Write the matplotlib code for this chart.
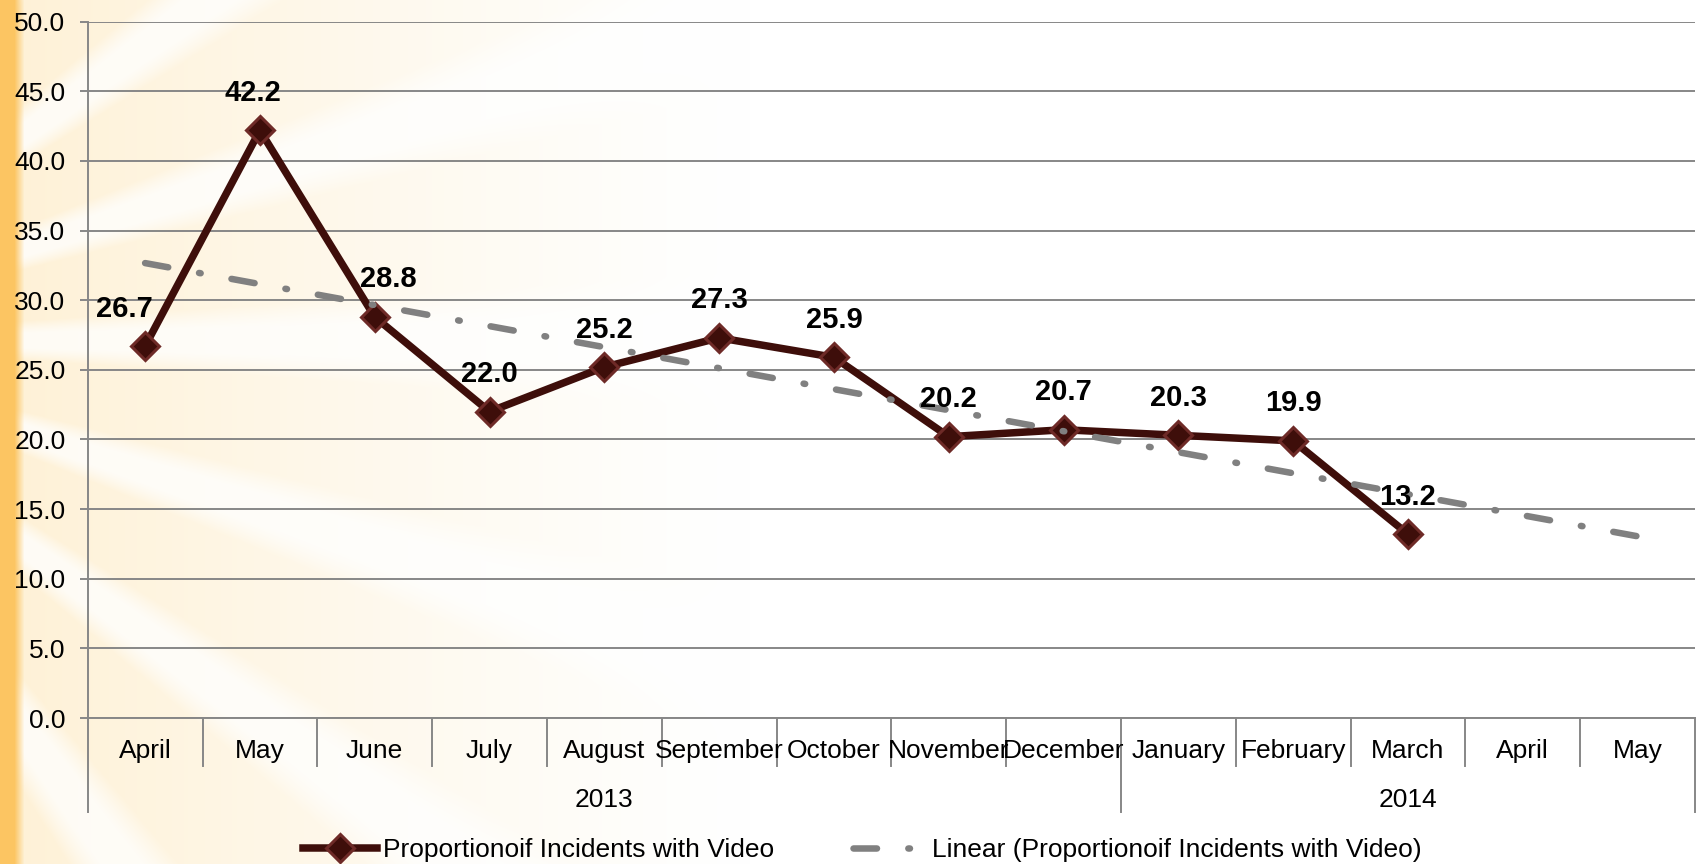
import numpy as np
import matplotlib
matplotlib.use('Agg')
import matplotlib.pyplot as plt
from matplotlib.lines import Line2D

months = ['April', 'May', 'June', 'July', 'August', 'September', 'October',
          'November', 'December', 'January', 'February', 'March', 'April', 'May']
years = ['2013', '2014']
year_first = [0, 9]          # index of first month in each year
proportion = [26.7, 42.2, 28.8, 22.0, 25.2, 27.3, 25.9, 20.2, 20.7, 20.3, 19.9, 13.2]
y_ticks = np.arange(0, 50.1, 5)
series_name = 'Proportionoif Incidents with Video'

# a few labels were dragged sideways by hand in the original (points)
label_dx = [-15, -5, 10, 0, 0, 0, 0, 0, 0, 0, 0, 0]

plt.rcParams['font.family'] = ['Liberation Sans', 'DejaVu Sans']
FS = 19
LABEL_FS = 21
W, H = 1698, 864
line_col = '#3e0e0a'
edge_col = '#6e2a27'
grid_col = '#878787'
trend_col = '#808080'
LINE_W = 5.4
TREND_W = 4.7
TREND_DASH = (3.6, 4.8, 0.25, 4.8)

fig = plt.figure(figsize=(W / 100, H / 100), dpi=100)

# background: orange strip + faded sunburst
yy, xx = np.mgrid[0:H, 0:W]
ang = np.arctan2(yy - 340.0, xx + 260.0)
rays = 0.5 + 0.5 * np.cos(ang * 20)
rays = np.clip((rays - 0.6) * 3.0, 0, 1)
fade = np.clip(1 - xx / 750.0, 0, 1) ** 1.2
cream = np.array([254, 241, 214]) / 255.0
t = (fade * (1 - 0.75 * rays))[..., None]
img = np.ones((H, W, 3)) * (1 - t) + cream * t
strip = np.clip(1 - (xx - 14) / 10.0, 0, 1)[..., None]
img = img * (1 - strip) + np.array([252, 197, 98]) / 255.0 * strip
bg = fig.add_axes([0, 0, 1, 1])
bg.imshow(img, aspect='auto', interpolation='bilinear')
bg.axis('off')

left, right, top, bottom = 87.7, 1695, 21.7, 718
ax = fig.add_axes([left / W, 1 - bottom / H, (right - left) / W, (bottom - top) / H])
ax.patch.set_alpha(0)
ph = bottom - top

x = np.arange(len(proportion))
ax.plot(x, proportion, color=line_col, lw=LINE_W, marker='D', ms=14,
        mfc=line_col, mec=edge_col, mew=2.2, zorder=3, clip_on=False,
        solid_joinstyle='miter')

# linear trend, forecast forward two periods
slope, icpt = np.polyfit(x, proportion, 1)
xt = np.array([0, len(months) - 1])
trend, = ax.plot(xt, slope * xt + icpt, color=trend_col, lw=TREND_W, zorder=4,
                 dash_capstyle='round', clip_on=False)
trend.set_dashes(TREND_DASH)

for i, v in enumerate(proportion):
    ax.annotate('%.1f' % v, (i, v), xytext=(label_dx[i], 27),
                textcoords='offset points', ha='center', va='center',
                fontsize=LABEL_FS, fontweight='bold', color='black', zorder=5)

ax.set_xlim(-0.5, len(months) - 0.5)
ax.set_ylim(0, 50)
ax.set_yticks(y_ticks)
ax.set_yticklabels(['%.1f' % v for v in y_ticks], fontsize=FS)
ax.set_xticks([])
ax.grid(axis='y', color=grid_col, lw=1.4, zorder=0)
ax.tick_params(axis='y', length=6, width=1.4, color=grid_col, pad=10)
for s in ['top', 'right']:
    ax.spines[s].set_visible(False)
for s in ['left', 'bottom']:
    ax.spines[s].set_color(grid_col)
    ax.spines[s].set_linewidth(1.4)

# multi-level category axis
tr = ax.get_xaxis_transform()
tick_bot = -(766 - bottom) / ph
year_bot = -(812 - bottom) / ph
for b in np.arange(0.5, len(months) - 1, 1.0):
    lo = year_bot if int(b + 0.5) in year_first else tick_bot
    ax.plot([b, b], [0, lo], transform=tr, color=grid_col, lw=1.4, clip_on=False)
for b in [-0.5, len(months) - 0.5]:
    ax.plot([b, b], [0, year_bot], transform=tr, color=grid_col, lw=1.4, clip_on=False)
for i, m in enumerate(months):
    ax.text(i, -(751 - bottom) / ph, m, transform=tr, ha='center', va='center',
            fontsize=FS)
ends = year_first[1:] + [len(months)]
for yname, a, e in zip(years, year_first, ends):
    ax.text((a + e - 1) / 2.0, -(800 - bottom) / ph, yname, transform=tr,
            ha='center', va='center', fontsize=FS)

h1 = Line2D([], [], color=line_col, lw=LINE_W, marker='D', ms=14, mfc=line_col,
            mec=edge_col, mew=2.2)
h2 = Line2D([], [], color=trend_col, lw=TREND_W, dash_capstyle='round')
h2.set_dashes(TREND_DASH)
fig.legend([h1, h2], [series_name, 'Linear (%s)' % series_name],
           loc='center', bbox_to_anchor=(0.508, 1 - 850 / H), ncol=2,
           frameon=False, fontsize=FS, handlelength=2.8, handletextpad=0.2,
           columnspacing=3.0)

fig.savefig('out.png', dpi=100)
